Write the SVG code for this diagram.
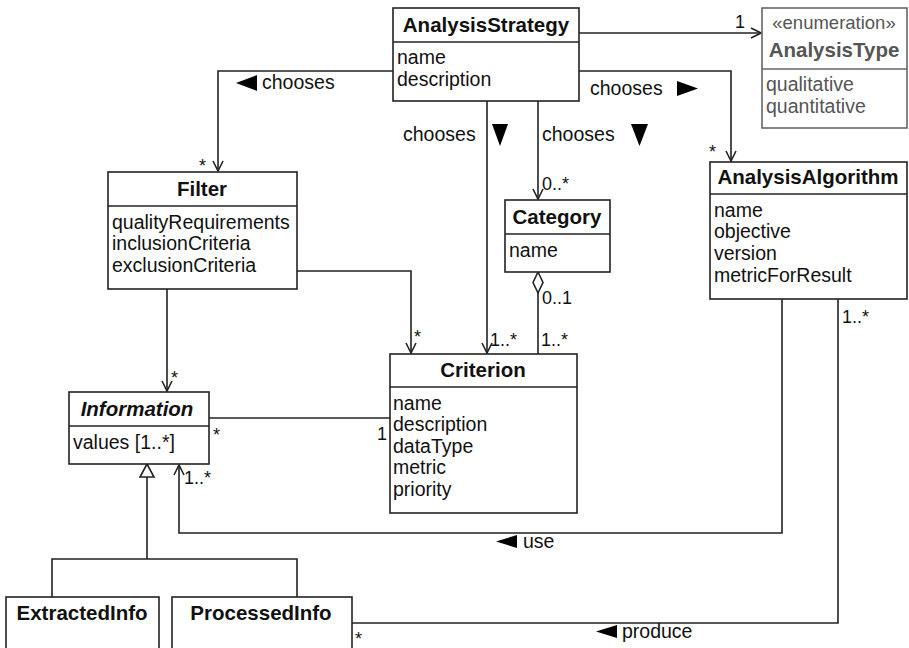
<svg xmlns="http://www.w3.org/2000/svg" width="909" height="648" viewBox="0 0 909 648">
<style>
text{font-family:"Liberation Sans",Arial,sans-serif;fill:#111}
.box{fill:#fff;stroke:#222;stroke-width:1.6}
.sep{stroke:#222;stroke-width:1.6}
.h{font-weight:bold;font-size:20.5px;text-anchor:middle}
.a{font-size:19.5px}
.m{font-size:18px}
.lbl{font-size:19.5px}
.ln{fill:none;stroke:#222;stroke-width:1.6}
.tri{fill:#000}
.g .box,.g .sep{stroke:#666}
.g text{fill:#555}
</style>
<defs>
<marker id="open" viewBox="0 0 12 12" refX="11" refY="6" markerWidth="12" markerHeight="12" markerUnits="userSpaceOnUse" orient="auto">
<path d="M1,1 L11,6 L1,11" fill="none" stroke="#222" stroke-width="1.6"/>
</marker>
</defs>
<g id="connectors">
<path class="ln" d="M579,33 H761" marker-end="url(#open)"/>
<path class="ln" d="M393,71 H218 V171" marker-end="url(#open)"/>
<path class="ln" d="M579,71 H731 V161" marker-end="url(#open)"/>
<path class="ln" d="M487,101 V353" marker-end="url(#open)"/>
<path class="ln" d="M538,101 V199" marker-end="url(#open)"/>
<path class="ln" d="M538,293 V354"/>
<path d="M538,272 L543,282.5 L538,293 L533,282.5 Z" fill="#fff" stroke="#222" stroke-width="1.6"/>
<path class="ln" d="M297,271 H411 V353" marker-end="url(#open)"/>
<path class="ln" d="M167,289 V391" marker-end="url(#open)"/>
<path class="ln" d="M209,418 H390"/>
<path class="ln" d="M147,477 V559 M52,597 V559 H297 V597"/>
<path d="M147,464 L154,477 L140,477 Z" fill="#fff" stroke="#222" stroke-width="1.6"/>
<path class="ln" d="M782,299 V533 H179 V465" marker-end="url(#open)"/>
<path class="ln" d="M838,299 V623 H352"/>
<text class="m" x="740" y="28" text-anchor="middle">1</text>
<text class="m" x="199" y="172">*</text>
<text class="m" x="709" y="158">*</text>
<text class="m" x="490" y="346">1..*</text>
<text class="m" x="542" y="190">0..*</text>
<text class="m" x="542" y="304">0..1</text>
<text class="m" x="541" y="346">1..*</text>
<text class="m" x="414" y="343">*</text>
<text class="m" x="171" y="384">*</text>
<text class="m" x="213" y="441">*</text>
<text class="m" x="377" y="440">1</text>
<text class="m" x="184" y="484">1..*</text>
<text class="m" x="842" y="323">1..*</text>
<text class="m" x="355" y="645">*</text>
<path class="tri" d="M236,83 L257,75 L257,91 Z"/>
<text class="lbl" x="262" y="89">chooses</text>
<text class="lbl" x="590" y="95">chooses</text>
<path class="tri" d="M677,81 L698,88.5 L677,96 Z"/>
<text class="lbl" x="403" y="141">chooses</text>
<path class="tri" d="M492,124 L508,124 L500,146 Z"/>
<text class="lbl" x="542" y="141">chooses</text>
<path class="tri" d="M631,124 L648,124 L639.5,146 Z"/>
<path class="tri" d="M496,541.5 L517,535 L517,548 Z"/>
<text class="lbl" x="523" y="548">use</text>
<path class="tri" d="M596,631.5 L617,625 L617,638 Z"/>
<text class="lbl" x="622" y="638">produce</text>
</g>
<g id="AnalysisStrategy">
<rect class="box" x="393" y="8" width="186" height="93"/>
<line class="sep" x1="393" y1="42" x2="579" y2="42"/>
<text class="h" x="486" y="32">AnalysisStrategy</text>
<text class="a" x="397" y="64">name</text>
<text class="a" x="397" y="86">description</text>
</g>
<g id="AnalysisType" class="g">
<rect class="box" x="762" y="8" width="145" height="120"/>
<line class="sep" x1="762" y1="69" x2="907" y2="69"/>
<text class="a" x="834" y="29" text-anchor="middle" style="font-size:18.5px">«enumeration»</text>
<text class="h" x="834" y="57">AnalysisType</text>
<text class="a" x="766" y="91">qualitative</text>
<text class="a" x="766" y="113">quantitative</text>
</g>
<g id="Filter">
<rect class="box" x="108" y="172" width="189" height="117"/>
<line class="sep" x1="108" y1="206" x2="297" y2="206"/>
<text class="h" x="202" y="196">Filter</text>
<text class="a" x="112" y="229">qualityRequirements</text>
<text class="a" x="112" y="250">inclusionCriteria</text>
<text class="a" x="112" y="272">exclusionCriteria</text>
</g>
<g id="Category">
<rect class="box" x="505" y="200" width="105" height="72"/>
<line class="sep" x1="505" y1="234" x2="610" y2="234"/>
<text class="h" x="557" y="224">Category</text>
<text class="a" x="509" y="257">name</text>
</g>
<g id="AnalysisAlgorithm">
<rect class="box" x="710" y="162" width="197" height="137"/>
<line class="sep" x1="710" y1="194" x2="907" y2="194"/>
<text class="h" x="808" y="184">AnalysisAlgorithm</text>
<text class="a" x="714" y="217">name</text>
<text class="a" x="714" y="238">objective</text>
<text class="a" x="714" y="260">version</text>
<text class="a" x="714" y="282">metricForResult</text>
</g>
<g id="Criterion">
<rect class="box" x="390" y="354" width="187" height="159"/>
<line class="sep" x1="390" y1="387" x2="577" y2="387"/>
<text class="h" x="483" y="377">Criterion</text>
<text class="a" x="393" y="410">name</text>
<text class="a" x="393" y="431">description</text>
<text class="a" x="393" y="453">dataType</text>
<text class="a" x="393" y="474">metric</text>
<text class="a" x="393" y="496">priority</text>
</g>
<g id="Information">
<rect class="box" x="69" y="392" width="140" height="72"/>
<line class="sep" x1="69" y1="426" x2="209" y2="426"/>
<text class="h" x="137" y="416" font-style="italic">Information</text>
<text class="a" x="73" y="449">values [1..*]</text>
</g>
<g id="ExtractedInfo">
<rect class="box" x="6" y="597" width="153" height="60"/>
<text class="h" x="82" y="620">ExtractedInfo</text>
</g>
<g id="ProcessedInfo">
<rect class="box" x="172" y="597" width="180" height="60"/>
<text class="h" x="261" y="620">ProcessedInfo</text>
</g>
</svg>
